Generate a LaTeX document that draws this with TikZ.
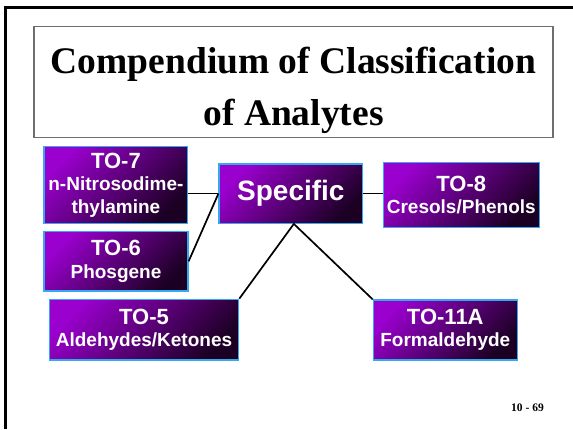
\documentclass[tikz,border=0pt]{standalone}
\usepackage{fontspec}
\setmainfont{Liberation Serif}
\setsansfont{Liberation Sans}
\usepackage{tikz}
\usetikzlibrary{calc,positioning}

\definecolor{boxtop}{HTML}{9A00CE}
\definecolor{boxbot}{HTML}{1C0024}
\definecolor{boxline}{HTML}{33AAF0}
\definecolor{titleline}{HTML}{6E6E6E}

\tikzset{
    tobox/.style={draw=boxline, line width=1.2pt, top color=boxtop, bottom color=boxbot,
        shading angle=45, text=white, align=center, inner sep=0pt,
        font=\sffamily\bfseries\fontsize{19}{22.5}\selectfont},
    link/.style={line width=1.7pt, black},
}
\newcommand{\tohead}[1]{{\fontsize{22}{22.5}\selectfont #1}}

\begin{document}
\begin{tikzpicture}[x=1pt,y=1pt]  % one unit = one pixel
    \useasboundingbox (0,0) rectangle (573,429);
    % Slide frame (left and top edge)
    \draw[line width=3pt] (5,0) -- (5,421) -- (573,421);
    % Title box
    \node[draw=titleline, line width=1.2pt, minimum width=519pt, minimum height=110.5pt,
          align=center, font=\bfseries\fontsize{37.5}{44}\selectfont] (title)
          at (293.5,347.25) {\rule{0pt}{44pt}Compendium of Classification\\[8pt]of Analytes};
    % Method boxes
    \node[tobox, minimum width=143.7pt, minimum height=76.6pt] (to7) at (115.9,244)
          {\tohead{TO-7}\\n-Nitrosodime-\\thylamine};
    \node[tobox, minimum width=144pt, minimum height=59.3pt] (to6) at (116,167.65)
          {\tohead{TO-6}\\Phosgene};
    \node[tobox, minimum width=189.4pt, minimum height=60.7pt] (to5) at (144,99.35)
          {\tohead{TO-5}\\Aldehydes/Ketones};
    \node[tobox, minimum width=143.7pt, minimum height=59.3pt,
          font=\sffamily\bfseries\fontsize{28}{30}\selectfont] (spec) at (290.85,235.35)
          {Specific};
    \node[tobox, minimum width=156pt, minimum height=64.6pt] (to8) at (461.3,234)
          {\tohead{TO-8}\\Cresols/Phenols};
    \node[tobox, minimum width=144pt, minimum height=60pt] (to11a) at (445.3,99)
          {\tohead{TO-11A}\\Formaldehyde};
    % Connectors
    \draw[link] (spec.west) -- (spec.west -| to7.east);
    \draw[link] (spec.west) -- (to6.east);
    \draw[link] (spec.east) -- (spec.east -| to8.west);
    \draw[link] (to5.north east) -- ([xshift=3pt]spec.south) -- (to11a.north west);
    % Page number
    \node[anchor=base, font=\bfseries\fontsize{11.5}{13}\selectfont] (pagenum)
          at (527.5,17.3) {10 - 69};
\end{tikzpicture}
\end{document}
